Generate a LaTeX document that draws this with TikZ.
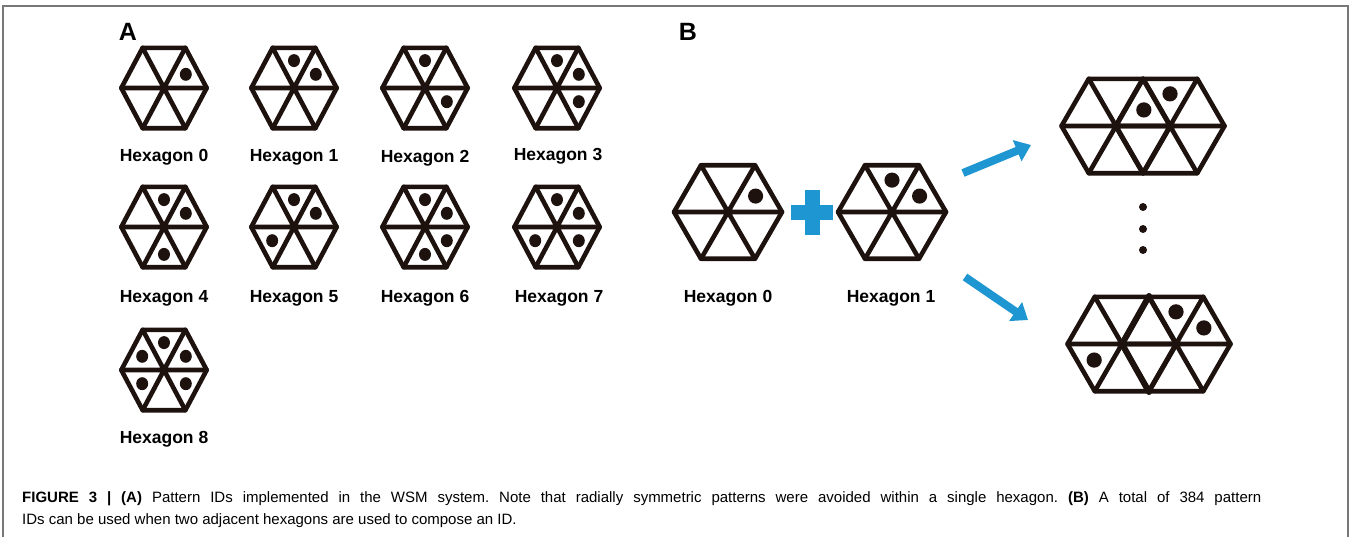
\documentclass[tikz,border=0pt]{standalone}
\usepackage{fontspec}
\setmainfont{Liberation Sans}
\usetikzlibrary{arrows.meta}
\frenchspacing

\definecolor{hexink}{RGB}{30,18,14}
\definecolor{wsmblue}{RGB}{30,150,210}
\definecolor{framegray}{RGB}{120,120,120}

\tikzset{
  hexedge/.style={line width=4.6pt, draw=hexink, line join=round, line cap=round},
  hexlabel/.style={anchor=base, font=\fontsize{17.5}{20}\selectfont\bfseries},
  panellabel/.style={font=\fontsize{25}{28}\selectfont\bfseries},
  captext/.style={anchor=base west, inner sep=0pt, font=\fontsize{15}{18}\selectfont},
  bluearrow/.style={line width=8pt, draw=wsmblue, -{Triangle[length=15pt,width=22pt]}},
}

% hexagon: [y stretch] centre x, centre y, radius, dot angles
\newcommand{\hexid}[5][1]{%
  \begin{scope}[shift={(#2,#3)}, yscale=#1]
    \draw[hexedge] (0:#4) -- (60:#4) -- (120:#4) -- (180:#4) -- (240:#4) -- (300:#4) -- cycle;
    \draw[hexedge] (0:#4) -- (180:#4) (60:#4) -- (240:#4) (120:#4) -- (300:#4);
    \foreach \a in {#5} \fill[hexink] (\a:{0.59*#4}) circle[radius={0.14*#4pt}];
  \end{scope}}

\begin{document}
\begin{tikzpicture}[x=1pt, y=1pt]
    \useasboundingbox (0,0) rectangle (1351,-536);
    % frame
    \draw[framegray, line width=2pt] (3,-540) -- (3,-6) -- (1348,-6) -- (1348,-540);

    % panel A
    \node[panellabel] (labA) at (128,-32) {A};
    \hexid[1.087]{164}{-88}{42.7}{30}
    \hexid[1.087]{294}{-88}{42.7}{90,30}
    \hexid[1.087]{425}{-88}{42.7}{90,-30}
    \hexid[1.087]{557}{-88}{42.7}{90,30,-30}
    \hexid[1.087]{164}{-227}{42.7}{90,30,-90}
    \hexid[1.087]{294}{-227}{42.7}{90,30,210}
    \hexid[1.087]{425}{-227}{42.7}{90,30,-30,-90}
    \hexid[1.087]{557}{-227}{42.7}{90,30,-30,210}
    \hexid[1.087]{164}{-370}{42.7}{90,30,-30,210,150}
    \node[hexlabel] (h0) at (164,-161) {Hexagon 0};
    \node[hexlabel] (h1) at (294,-161) {Hexagon 1};
    \node[hexlabel] (h2) at (425,-162) {Hexagon 2};
    \node[hexlabel] (h3) at (558,-160) {Hexagon 3};
    \node[hexlabel] (h4) at (164,-302) {Hexagon 4};
    \node[hexlabel] (h5) at (294,-302) {Hexagon 5};
    \node[hexlabel] (h6) at (425,-302) {Hexagon 6};
    \node[hexlabel] (h7) at (559,-302) {Hexagon 7};
    \node[hexlabel] (h8) at (164,-443) {Hexagon 8};

    % panel B
    \node[panellabel] (labB) at (688,-32) {B};
    \hexid{728}{-212}{54}{30}
    \hexid{892}{-212}{54}{90,30}
    \node[hexlabel] (b0) at (728,-302) {Hexagon 0};
    \node[hexlabel] (b1) at (891,-302) {Hexagon 1};
    % plus sign
    \fill[wsmblue] (791,-204.5) rectangle (833,-219.5);
    \fill[wsmblue] (804.5,-190) rectangle (819.5,-235);

    % combined IDs
    \hexid{1116}{-126}{54.5}{30}
    \hexid{1170}{-126}{54.5}{90}
    \hexid{1122}{-344}{54.5}{210}
    \hexid{1176}{-344}{54.5}{90,30}
    \draw[hexedge, line width=6pt] (1149,-296) -- (1122,-344) -- (1149,-392);
    % vertical dots
    \foreach \vy in {207,229,250} \fill[hexink] (1143,-\vy) circle[radius=4pt];

    % arrows
    \coordinate (upS) at (963,-173);
    \coordinate (upE) at (1031,-145);
    \coordinate (dnS) at (965,-277);
    \coordinate (dnE) at (1028,-320);
    \draw[bluearrow] (upS) -- (upE);
    \draw[bluearrow] (dnS) -- (dnE);

    % caption
    \node[captext] (cap1) at (22,-502) {\makebox[1239pt][s]{\textbf{FIGURE 3 | (A)} Pattern IDs implemented in the WSM system. Note that radially symmetric patterns were avoided within a single hexagon. \textbf{(B)} A total of 384 pattern}};
    \node[captext] (cap2) at (22,-524) {IDs can be used when two adjacent hexagons are used to compose an ID.};
\end{tikzpicture}
\end{document}
